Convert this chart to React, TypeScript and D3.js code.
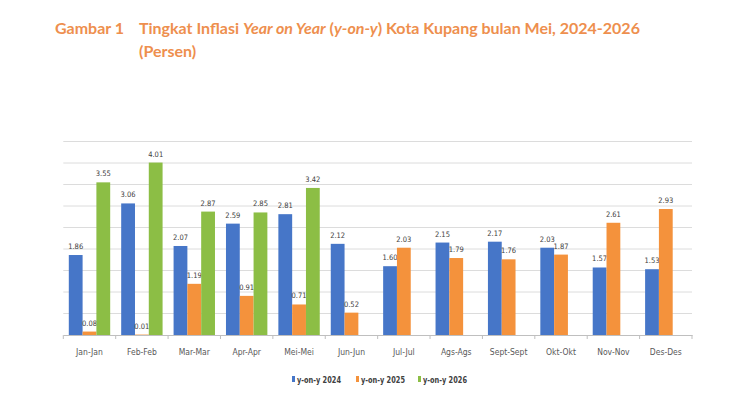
import React, { useCallback, useEffect, useRef } from 'react'
import * as d3 from 'd3'

const months = ['Jan-Jan', 'Feb-Feb', 'Mar-Mar', 'Apr-Apr', 'Mei-Mei', 'Jun-Jun', 'Jul-Jul', 'Ags-Ags', 'Sept-Sept', 'Okt-Okt', 'Nov-Nov', 'Des-Des']
const seriesNames = ['y-on-y 2024', 'y-on-y 2025', 'y-on-y 2026']
const yoy2024 = [1.86, 3.06, 2.07, 2.59, 2.81, 2.12, 1.60, 2.15, 2.17, 2.03, 1.57, 1.53]
const yoy2025 = [0.08, 0.01, 1.19, 0.91, 0.71, 0.52, 2.03, 1.79, 1.76, 1.87, 2.61, 2.93]
const yoy2026: (number | null)[] = [3.55, 4.01, 2.87, 2.85, 3.42, null, null, null, null, null, null, null]
const yTicks = [0, 0.5, 1, 1.5, 2, 2.5, 3, 3.5, 4, 4.5]
const colors = ['#4676C8', '#F4923C', '#8CBE45']

const narrow = '"DejaVu Sans Condensed", "Liberation Sans Narrow", sans-serif'

export default function App() {
  const chartRef = useRef<SVGSVGElement>(null)

  const drawChart = useCallback(() => {
    const svg = d3.select(chartRef.current)
    svg.selectAll('*').remove()

    const allSeries = [yoy2024, yoy2025, yoy2026]
    const left = 63.3, right = 692, top = 141.5, bottom = 335

    // title
    const title = svg.append('text')
      .attr('x', 55).attr('y', 34)
      .attr('fill', '#EE8F4E')
      .style('font-family', 'Lato, sans-serif')
      .style('font-weight', 'bold')
      .style('font-size', '16px')
    title.append('tspan').text('Gambar 1')
    title.append('tspan').attr('x', 139).text('Tingkat Inflasi ')
    title.append('tspan').style('font-style', 'italic').text('Year on Year')
    title.append('tspan').text(' (')
    title.append('tspan').style('font-style', 'italic').text('y-on-y')
    title.append('tspan').text(') Kota Kupang bulan Mei, 2024-2026')
    svg.append('text')
      .attr('x', 139).attr('y', 57)
      .attr('fill', '#EE8F4E')
      .style('font-family', 'Lato, sans-serif')
      .style('font-weight', 'bold')
      .style('font-size', '16px')
      .text('(Persen)')

    const x = d3.scaleBand<string>()
      .domain(months)
      .range([left, right])
      .padding(0)
    const xSub = d3.scaleBand<number>()
      .domain([0, 1, 2])
      .range([5.5, x.bandwidth() - 5.5])
      .padding(0)
    const y = d3.scaleLinear()
      .domain([0, 4.5])
      .range([bottom, top])

    // gridlines
    svg.append('g')
      .selectAll('line')
      .data(yTicks.slice(1))
      .join('line')
      .attr('x1', left).attr('x2', right)
      .attr('y1', d => y(d)).attr('y2', d => y(d))
      .attr('stroke', '#DCDCDC')
      .attr('stroke-width', 1)

    // bars
    allSeries.forEach((vals, si) => {
      const g = svg.append('g').attr('fill', colors[si])
      months.forEach((m, i) => {
        const v = vals[i]
        if (v === null || v === undefined) return
        g.append('rect')
          .attr('x', (x(m) as number) + (xSub(si) as number))
          .attr('y', y(v))
          .attr('width', xSub.bandwidth())
          .attr('height', y(0) - y(v))
        svg.append('text')
          .attr('x', (x(m) as number) + (xSub(si) as number) + xSub.bandwidth() / 2)
          .attr('y', y(v) - 6)
          .attr('text-anchor', 'middle')
          .attr('fill', '#404040')
          .style('font-family', narrow)
          .style('font-size', '7.5px')
          .text(v.toFixed(2))
      })
    })

    // x axis
    svg.append('g')
      .attr('transform', 'translate(0,' + bottom + ')')
      .call(d3.axisBottom(x).tickSize(0).tickPadding(14))
      .call(g => g.select('.domain').attr('stroke', '#BFBFBF'))
      .call(g => g.selectAll('.tick text')
        .attr('fill', '#595959')
        .style('font-family', narrow)
        .style('font-size', '8.5px'))
    svg.append('g')
      .selectAll('line')
      .data(d3.range(months.length + 1))
      .join('line')
      .attr('x1', i => left + i * x.bandwidth()).attr('x2', i => left + i * x.bandwidth())
      .attr('y1', bottom).attr('y2', bottom + 4)
      .attr('stroke', '#BFBFBF')

    // legend
    const legendX = [292, 356, 418]
    seriesNames.forEach((name, i) => {
      svg.append('rect')
        .attr('x', legendX[i]).attr('y', 376)
        .attr('width', 3).attr('height', 6)
        .attr('fill', colors[i])
      svg.append('text')
        .attr('x', legendX[i] + 5).attr('y', 382.5)
        .attr('fill', '#404040')
        .attr('textLength', 44)
        .attr('lengthAdjust', 'spacingAndGlyphs')
        .style('font-family', narrow)
        .style('font-size', '9px')
        .style('font-weight', 'bold')
        .text(name)
    })
  }, [])

  useEffect(() => {
    drawChart()
  }, [drawChart])

  return (
    <div id='bar_chart' style={{ position: 'absolute', left: 0, top: 0 }}>
      <svg ref={chartRef} width={750} height={420} style={{ display: 'block', background: '#fff' }}></svg>
    </div>
  )
}
